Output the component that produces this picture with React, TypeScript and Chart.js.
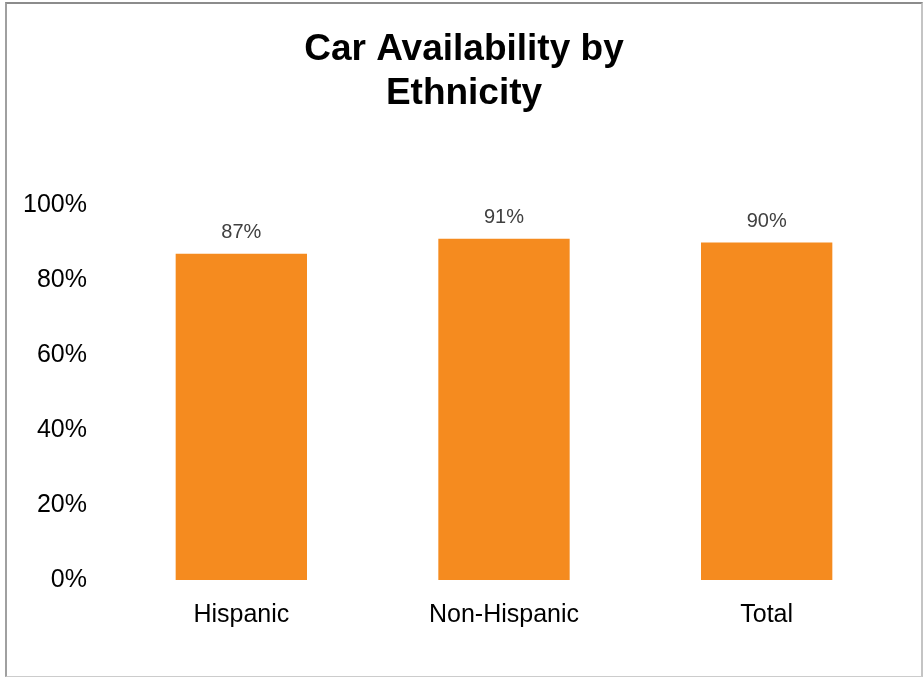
import React, { useEffect, useRef } from "react";
import { Chart, registerables } from "chart.js";

Chart.register(...registerables);

const titleLines = ["Car Availability by", "Ethnicity"];
const categories = ["Hispanic", "Non-Hispanic", "Total"];
const carAvailability = [87, 91, 90];
const yMin = 0;
const yMax = 100;
const yStep = 20;
const barColor = "#F58B1F";
const FONT = "'Liberation Sans', Arial, sans-serif";

const titlePlugin = {
  id: "customTitle",
  afterDraw(chart: any) {
    const ctx = chart.ctx;
    ctx.save();
    ctx.font = "bold 37px " + FONT;
    ctx.fillStyle = "#000000";
    ctx.textAlign = "center";
    ctx.textBaseline = "alphabetic";
    titleLines.forEach((line, i) => {
      ctx.fillText(line, 464, 60 + i * 44);
    });
    ctx.restore();
  },
};

const valueLabelPlugin = {
  id: "valueLabels",
  afterDatasetsDraw(chart: any) {
    const ctx = chart.ctx;
    const meta = chart.getDatasetMeta(0);
    ctx.save();
    ctx.font = "20px " + FONT;
    ctx.fillStyle = "#404040";
    ctx.textAlign = "center";
    ctx.textBaseline = "alphabetic";
    meta.data.forEach((bar: any, i: number) => {
      ctx.fillText(carAvailability[i] + "%", bar.x, bar.y - 16);
    });
    ctx.restore();
  },
};

export default function App() {
  const ref = useRef<HTMLCanvasElement | null>(null);
  useEffect(() => {
    if (!ref.current) return;
    const chart = new Chart(ref.current, {
      type: "bar",
      data: {
        labels: categories,
        datasets: [
          {
            label: "Car availability",
            data: carAvailability,
            backgroundColor: barColor,
            borderWidth: 0,
            barPercentage: 0.5,
            categoryPercentage: 1,
          },
        ],
      },
      options: {
        animation: false,
        responsive: false,
        maintainAspectRatio: false,
        layout: { padding: { left: 0, right: 26, top: 205, bottom: 0 } },
        plugins: {
          legend: { display: false },
          tooltip: { enabled: false },
          title: { display: false },
        },
        scales: {
          x: {
            grid: { display: false, drawTicks: false },
            border: { display: false },
            ticks: {
              color: "#000000",
              padding: 20,
              font: { family: FONT, size: 25 },
            },
            afterFit(scale: any) {
              scale.height = 97;
            },
          },
          y: {
            min: yMin,
            max: yMax,
            grid: { display: false, drawTicks: false },
            border: { display: false },
            ticks: {
              stepSize: yStep,
              color: "#000000",
              padding: 23,
              font: { family: FONT, size: 25 },
              callback: (v: any) => v + "%",
            },
            afterFit(scale: any) {
              scale.width = 110;
            },
          },
        },
      },
      plugins: [valueLabelPlugin, titlePlugin],
    });
    return () => chart.destroy();
  }, []);

  return (
    <div style={{ position: "fixed", left: 0, top: 0, width: 924, height: 677, background: "#ffffff" }}>
      <div
        style={{
          position: "absolute",
          left: 5,
          top: 2,
          width: 918,
          height: 675,
          boxSizing: "border-box",
          borderTop: "2px solid #8c8c8c",
          borderLeft: "2px solid #a0a0a0",
          borderRight: "2px solid #c4c4c4",
          borderBottom: "1px solid #cccccc",
        }}
      />
      <canvas ref={ref} width={924} height={677} style={{ position: "absolute", left: 0, top: 0 }} />
    </div>
  );
}
